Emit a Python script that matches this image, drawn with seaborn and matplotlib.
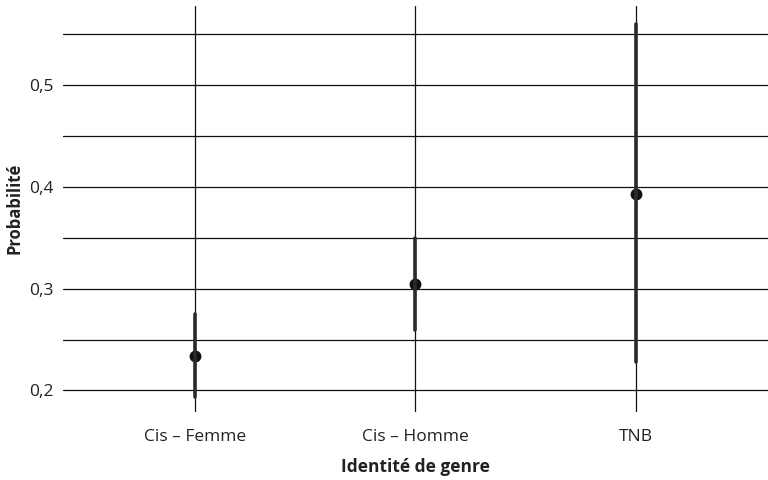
import matplotlib
matplotlib.use("Agg")
import matplotlib.pyplot as plt
import matplotlib.ticker as mticker
import seaborn as sns
import pandas as pd

categories = ["Cis – Femme", "Cis – Homme", "TNB"]
estimates = [0.234, 0.305, 0.3935]
lower = [0.194, 0.259, 0.2275]
upper = [0.275, 0.350, 0.560]

rows = []
for c, lo, e, hi in zip(categories, lower, estimates, upper):
    for v in (lo, e, hi):
        rows.append({"Identité de genre": c, "Probabilité": v})
df = pd.DataFrame(rows)

sns.set_theme(style="white")
plt.rcParams["font.family"] = ["Open Sans", "DejaVu Sans"]

fig = plt.figure(figsize=(7.68, 4.8), dpi=100)
ax = fig.add_axes([0.082, 0.142, 0.918, 0.846])

sns.pointplot(data=df, x="Identité de genre", y="Probabilité",
              estimator="median", errorbar=("pi", 100),
              order=categories, linestyle="none", color="#111111",
              markersize=6.5, err_kws={"color": "#2a2a2a", "linewidth": 2.6},
              ax=ax, zorder=5)

ax.set_xlim(-0.6, 2.6)
ax.set_ylim(0.179, 0.578)
ax.yaxis.set_major_locator(mticker.FixedLocator([0.2, 0.3, 0.4, 0.5]))
ax.yaxis.set_minor_locator(mticker.FixedLocator([0.25, 0.35, 0.45, 0.55]))
ax.yaxis.set_major_formatter(mticker.FuncFormatter(lambda v, p: f"{v:.1f}".replace(".", ",")))
ax.grid(True, which="both", axis="y", color="#111111", linewidth=0.9)
ax.grid(True, which="major", axis="x", color="#111111", linewidth=0.9)
ax.set_axisbelow(True)
for s in ax.spines.values():
    s.set_visible(False)
ax.tick_params(axis="both", which="both", length=0, labelsize=12.5, colors="#222222")
ax.tick_params(axis="y", pad=7)
ax.tick_params(axis="x", pad=12)
ax.set_xlabel("Identité de genre", fontsize=12.5, fontweight="bold", labelpad=10, color="#222222")
ax.set_ylabel("Probabilité", fontsize=12, fontweight="bold", labelpad=4, color="#222222")

fig.savefig("out.png", dpi=100)
